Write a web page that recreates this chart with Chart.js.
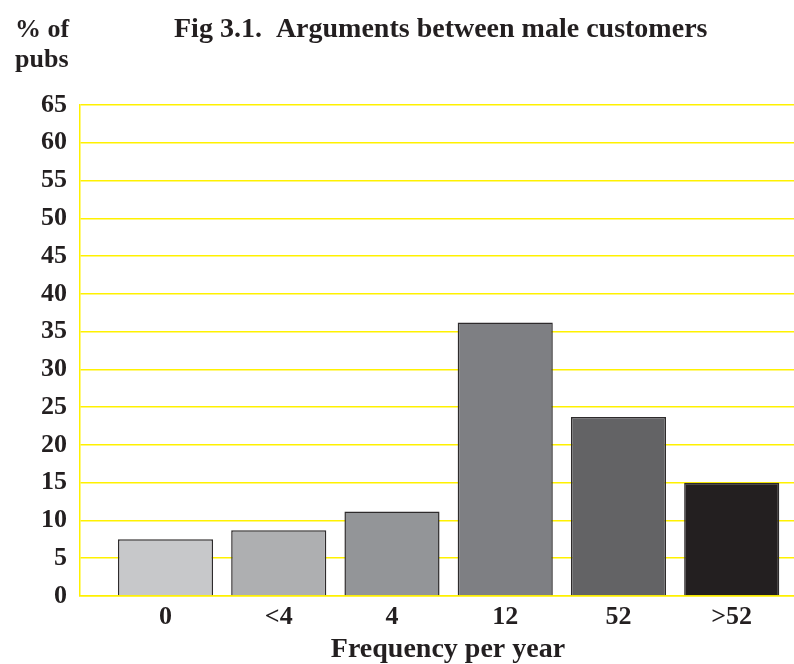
<!DOCTYPE html>
<html>
<head>
<meta charset="utf-8">
<script src="https://cdn.jsdelivr.net/npm/chart.js@4/dist/chart.umd.min.js"></script>
<style>
html,body{margin:0;padding:0;background:#fff;}
canvas{display:block;}
</style>
</head>
<body>
<canvas id="c" width="794" height="664"></canvas>
<script>
const categories = ['0', '<4', '4', '12', '52', '>52'];
const values = [7.5, 8.7, 11.2, 36.2, 23.7, 15.0];
const barColors = ['#c7c8ca', '#aeafb1', '#939598', '#7e7f83', '#636365', '#231f20'];
const yTickStep = 5;
const yMax = 65;
const titleText = 'Fig 3.1.  Arguments between male customers';
const yTitleLines = ['% of', 'pubs'];
const xTitleText = 'Frequency per year';

const FONT = '"Liberation Serif", "Times New Roman", serif';
const INK = '#231f20';
const YELLOW = '#fff100';

const textPlugin = {
  id: 'texts',
  afterDraw(chart) {
    const ctx = chart.ctx;
    ctx.save();
    ctx.fillStyle = INK;
    ctx.textBaseline = 'alphabetic';
    ctx.textAlign = 'left';
    ctx.font = 'bold 28px ' + FONT;
    ctx.fillText(titleText, 174, 37);
    ctx.font = 'bold 26px ' + FONT;
    ctx.fillText(yTitleLines[0], 15, 37);
    ctx.fillText(yTitleLines[1], 15, 67);
    ctx.textAlign = 'center';
    ctx.font = 'bold 28px ' + FONT;
    ctx.fillText(xTitleText, 448, 657);
    ctx.restore();
  }
};

new Chart(document.getElementById('c'), {
  type: 'bar',
  data: {
    datasets: [{
      data: values.map((v, i) => ({x: i, y: v})),
      backgroundColor: barColors,
      borderColor: '#2e2b2c',
      borderWidth: 1.5,
      barPercentage: 0.84,
      categoryPercentage: 1.0
    }]
  },
  options: {
    responsive: false,
    animation: false,
    layout: {padding: {top: 105, left: 0, right: 0, bottom: 0}},
    plugins: {legend: {display: false}, tooltip: {enabled: false}, title: {display: false}},
    scales: {
      x: {
        type: 'linear',
        offset: false,
        min: -0.755,
        max: 5.55,
        afterBuildTicks: s => { s.ticks = categories.map((_, i) => ({value: i})); },
        afterFit: s => { s.height = 68; },
        ticks: {
          callback: v => categories[v],
          autoSkip: false,
          maxRotation: 0,
          padding: 6,
          color: INK,
          font: {family: FONT, size: 26, weight: 'bold'}
        },
        grid: {display: false, drawTicks: false, offset: false},
        border: {display: true, color: YELLOW, width: 1.5}
      },
      y: {
        min: 0,
        max: yMax,
        afterFit: s => { s.width = 80; },
        ticks: {
          stepSize: yTickStep,
          padding: 13,
          color: INK,
          font: {family: FONT, size: 26, weight: 'bold'}
        },
        grid: {color: YELLOW, lineWidth: 1.5, drawTicks: false},
        border: {display: true, color: YELLOW, width: 1.5}
      }
    }
  },
  plugins: [textPlugin]
});
</script>
</body>
</html>
